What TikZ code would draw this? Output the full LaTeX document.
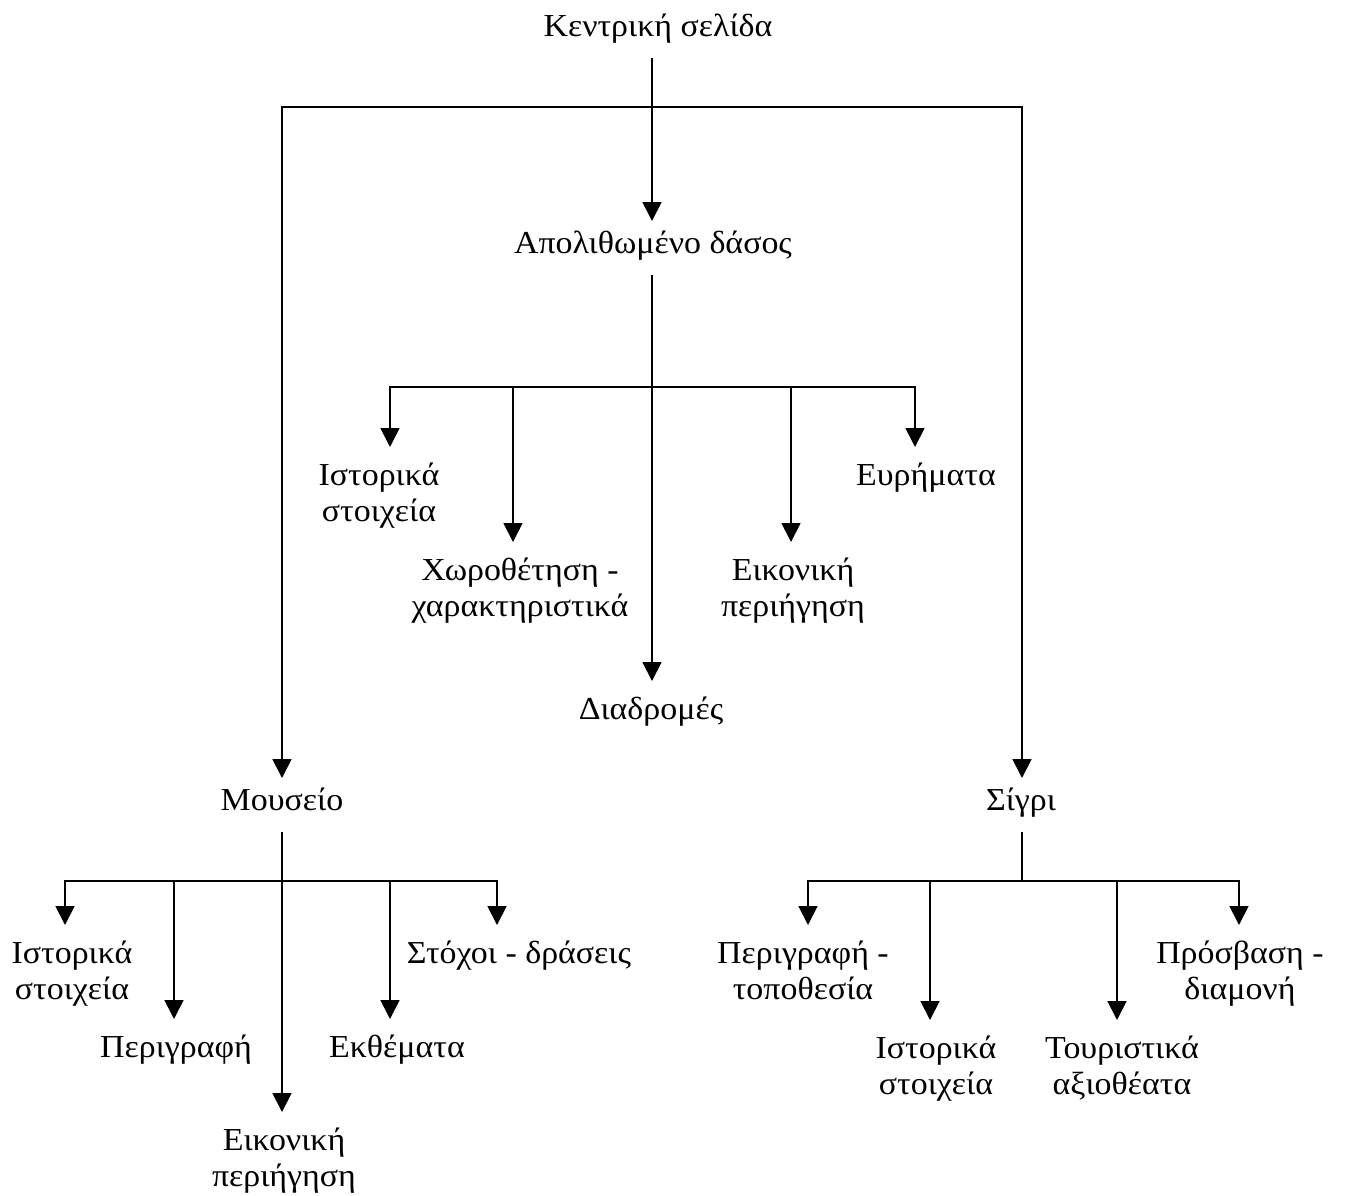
\documentclass[tikz,border=0pt]{standalone}
\usepackage{fontspec}
\setmainfont{Liberation Serif}[FakeStretch=1.06]
\usetikzlibrary{arrows.meta}

\begin{document}
\begin{tikzpicture}[x=0.5pt, y=-0.5pt,
    every node/.style={font=\fontsize{16pt}{18pt}\selectfont, inner sep=0pt, align=center},
    topic/.style={text height=0.75em, text depth=0.25em, outer ysep=8.5pt, anchor=base},
    leaf/.style={outer ysep=8pt, anchor=north},
    link/.style={line width=0.9pt, -{Triangle[width=9.5pt,length=9.5pt]}},
    bus/.style={line width=0.9pt}]
    \useasboundingbox (0,0) rectangle (1357,1196);

    \node[topic] (home) at (658,36) {Κεντρική σελίδα};
    \node[topic] (forest) at (653,253) {Απολιθωμένο δάσος};
    \node[topic] (museum) at (282,810) {Μουσείο};
    \node[topic] (sigri) at (1021,810) {Σίγρι};

    \node[leaf] (fhist) at (379,447) {Ιστορικά\\στοιχεία};
    \node[leaf] (fplace) at (520,542) {Χωροθέτηση -\\χαρακτηριστικά};
    \node[leaf] (froutes) at (651,681) {Διαδρομές};
    \node[leaf] (ftour) at (793,542) {Εικονική\\περιήγηση};
    \node[leaf] (ffinds) at (926,447) {Ευρήματα};

    \node[leaf] (mhist) at (72,925) {Ιστορικά\\στοιχεία};
    \node[leaf] (mdesc) at (176,1019) {Περιγραφή};
    \node[leaf] (mtour) at (284,1112) {Εικονική\\περιήγηση};
    \node[leaf] (mexh) at (397,1019) {Εκθέματα};
    \node[leaf] (mgoals) at (519,925) {Στόχοι - δράσεις};

    \node[leaf] (sdesc) at (803,925) {Περιγραφή -\\τοποθεσία};
    \node[leaf] (shist) at (936,1020) {Ιστορικά\\στοιχεία};
    \node[leaf] (ssights) at (1122,1020) {Τουριστικά\\αξιοθέατα};
    \node[leaf] (saccess) at (1240,925) {Πρόσβαση -\\διαμονή};

    \coordinate (topbus) at (652,107);
    \coordinate (fbus) at (652,387);
    \coordinate (mbus) at (282,881);
    \coordinate (sbus) at (1022,881);

    \draw[link] (topbus |- home.south) -- (topbus |- forest.north);
    \draw[link] (topbus) -| (museum.north);
    \draw[link] (topbus) -| ([xshift=0.5pt]sigri.north);

    \draw[link] (fbus |- forest.south) -- (fbus |- froutes.north);
    \draw[link] (fbus) -| ([xshift=5.5pt]fhist.north);
    \draw[link] (fbus) -| ([xshift=-3.5pt]fplace.north);
    \draw[link] (fbus) -| ([xshift=-1pt]ftour.north);
    \draw[link] (fbus) -| ([xshift=-5.5pt]ffinds.north);

    \draw[link] (museum.south) -- (mbus |- mtour.north);
    \draw[link] (mbus) -| ([xshift=-3.5pt]mhist.north);
    \draw[link] (mbus) -| ([xshift=-1pt]mdesc.north);
    \draw[link] (mbus) -| ([xshift=-3.5pt]mexh.north);
    \draw[link] (mbus) -| ([xshift=-11pt]mgoals.north);

    \draw[bus] (sbus |- sigri.south) -- (sbus);
    \draw[link] (sbus) -| ([xshift=2.5pt]sdesc.north);
    \draw[link] (sbus) -| ([xshift=-3pt]shist.north);
    \draw[link] (sbus) -| ([xshift=-2.5pt]ssights.north);
    \draw[link] (sbus) -| ([xshift=-0.5pt]saccess.north);
\end{tikzpicture}
\end{document}
